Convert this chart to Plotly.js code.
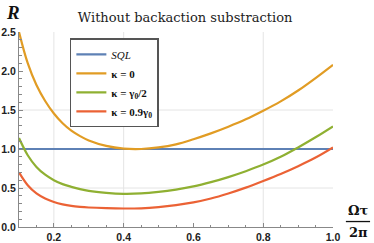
<!DOCTYPE html>
<html><head><meta charset="utf-8">
<script src="https://cdn.plot.ly/plotly-3.0.1.min.js"></script>
<style>html,body{margin:0;padding:0;background:#fff}#chart{width:374px;height:243px}</style>
</head><body><div id="chart"></div>
<script>
const xs = [0.1, 0.125, 0.15, 0.175, 0.2, 0.225, 0.25, 0.275, 0.3, 0.35, 0.4, 0.45, 0.5, 0.55, 0.6, 0.65, 0.7, 0.75, 0.8, 0.85, 0.9, 0.95, 1.0];
const sql = [1, 1, 1, 1, 1, 1, 1, 1, 1, 1, 1, 1, 1, 1, 1, 1, 1, 1, 1, 1, 1, 1, 1];
const kappa0 = [2.5, 2.1, 1.82, 1.615, 1.455, 1.33, 1.235, 1.165, 1.11, 1.04, 1.005, 1.0, 1.02, 1.06, 1.125, 1.2, 1.285, 1.38, 1.49, 1.61, 1.75, 1.91, 2.08];
const kappaHalf = [1.14, 0.92, 0.77, 0.67, 0.6, 0.55, 0.515, 0.485, 0.462, 0.437, 0.425, 0.43, 0.45, 0.48, 0.52, 0.575, 0.64, 0.715, 0.8, 0.9, 1.02, 1.15, 1.29];
const kappa09 = [0.7, 0.535, 0.43, 0.365, 0.32, 0.29, 0.27, 0.258, 0.25, 0.241, 0.237, 0.24, 0.255, 0.28, 0.315, 0.365, 0.43, 0.505, 0.59, 0.68, 0.78, 0.89, 1.02];
const names = ['<i>SQL</i>', '<b>κ = 0</b>', '<b>κ = γ<sub>0</sub>/2</b>', '<b>κ = 0.9γ<sub>0</sub></b>'];
const colors = ['#5E81B5', '#E19C24', '#8FB032', '#EB6235'];
const series = [sql, kappa0, kappaHalf, kappa09];
const xTicks = [0.2, 0.4, 0.6, 0.8, 1.0];
const xTickText = ['0.2', '0.4', '0.6', '0.8', '1.0'];
const yTicks = [0, 0.5, 1, 1.5, 2, 2.5];
const yTickText = ['0.0', '0.5', '1.0', '1.5', '2.0', '2.5'];
const gridX = [0.2, 0.4, 0.8];
const gridY = [0.5, 1.0, 1.5];

const traces = series.map((s, i) => ({
  x: xs, y: s, type: 'scatter', mode: 'lines', name: names[i],
  line: {color: colors[i], width: 2.2, shape: 'spline', smoothing: 1.0}
}));

const shapes = [];
gridX.forEach(g => shapes.push({type:'line', xref:'x', yref:'paper', x0:g, x1:g, y0:0, y1:1, line:{color:'#e4e4e4', width:1}, layer:'below'}));
gridY.forEach(g => shapes.push({type:'line', xref:'paper', yref:'y', x0:0, x1:1, y0:g, y1:g, line:{color:'#e4e4e4', width:1}, layer:'below'}));
shapes.push({type:'line', xref:'paper', yref:'paper', x0:1.041, x1:1.118, y0:0.028, y1:0.028, line:{color:'#111', width:1.3}});

const tickFont = {family:'Liberation Sans, Arial, sans-serif', size:10.5, color:'#222', weight:'bold'};
const layout = {
  width: 374, height: 243,
  margin: {l:19, r:41, t:32, b:16},
  paper_bgcolor: '#fff', plot_bgcolor: '#fff',
  showlegend: true,
  title: {text:'Without backaction substraction', font:{family:'DejaVu Serif, serif', size:13, color:'#222'}, x:0.529, xanchor:'center', y:0.928, yanchor:'middle', xref:'paper'},
  xaxis: {range:[0.1, 1.0], tickvals:xTicks, ticktext:xTickText, showgrid:false, zeroline:false,
    showline:true, linecolor:'#888', linewidth:1, ticks:'inside', ticklen:4, tickcolor:'#888', tickwidth:1,
    minor:{dtick:0.05, tick0:0, ticks:'inside', ticklen:2.5, tickcolor:'#888', showgrid:false},
    tickfont:tickFont, ticklabelstandoff:0, fixedrange:true},
  yaxis: {range:[0, 2.5], tickvals:yTicks, ticktext:yTickText, showgrid:false, zeroline:false,
    showline:true, linecolor:'#888', linewidth:1, ticks:'inside', ticklen:4, tickcolor:'#888', tickwidth:1,
    minor:{dtick:0.1, tick0:0, ticks:'inside', ticklen:2.5, tickcolor:'#888', showgrid:false},
    tickfont:tickFont, ticklabelstandoff:0, fixedrange:true},
  legend: {x:0.162, y:0.967, xanchor:'left', yanchor:'top', bgcolor:'#fff', bordercolor:'#555', borderwidth:1.5,
    font:{family:'Liberation Serif, serif', size:11, color:'#111'}, itemwidth:30, tracegroupgap:0},
  shapes: shapes,
  annotations: [
    {text:'<b><i>R</i></b>', xref:'paper', yref:'paper', x:-0.02, y:1.1, xanchor:'center', yanchor:'middle', showarrow:false, font:{family:'Liberation Serif, serif', size:19, color:'#111'}},
    {text:'<b>Ωτ</b>', xref:'paper', yref:'paper', x:1.08, y:0.085, xanchor:'center', yanchor:'middle', showarrow:false, font:{family:'DejaVu Serif, serif', size:13, color:'#111'}},
    {text:'<b>2π</b>', xref:'paper', yref:'paper', x:1.08, y:-0.03, xanchor:'center', yanchor:'middle', showarrow:false, font:{family:'DejaVu Serif, serif', size:13, color:'#111'}}
  ]
};
Plotly.newPlot('chart', traces, layout, {displayModeBar:false, staticPlot:true});
</script>
</body></html>
